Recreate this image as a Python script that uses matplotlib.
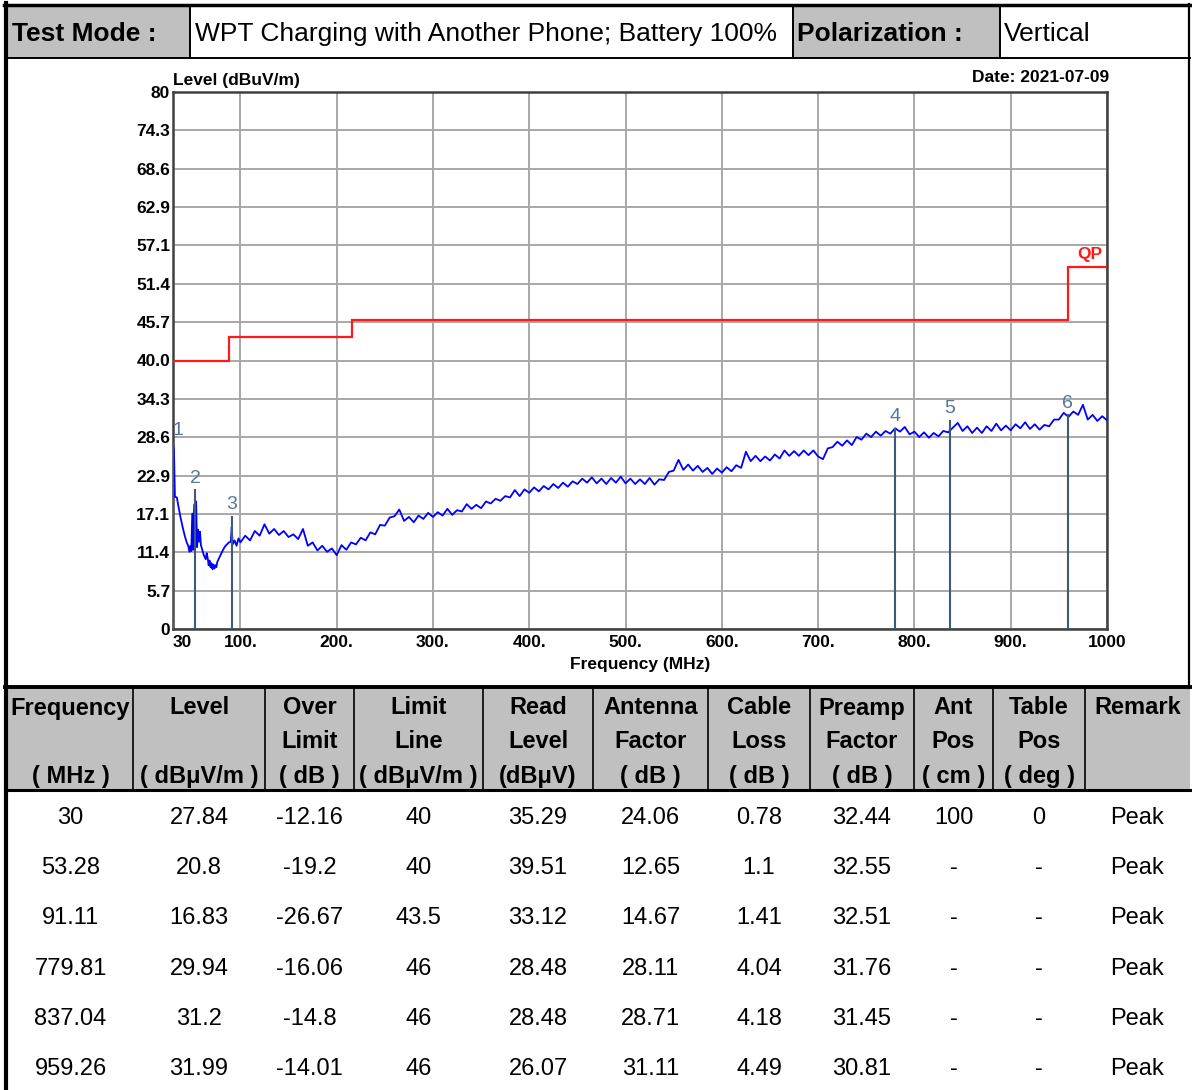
import numpy as np
import matplotlib
matplotlib.use("Agg")
import matplotlib.pyplot as plt
from matplotlib.patches import Rectangle

plt.rcParams['font.family'] = ['Liberation Sans', 'DejaVu Sans']

W, H = 1192, 1090

# header texts
test_mode = "WPT Charging with Another Phone; Battery 100%"
polarization = "Vertical"
date_text = "Date: 2021-07-09"

# y axis (dBuV/m) and x axis (MHz) labels
y_tick_labels = ["0", "5.7", "11.4", "17.1", "22.9", "28.6", "34.3", "40.0",
                 "45.7", "51.4", "57.1", "62.9", "68.6", "74.3", "80"]
x_ticks = [30, 100, 200, 300, 400, 500, 600, 700, 800, 900, 1000]
x_tick_labels = ["30", "100.", "200.", "300.", "400.", "500.", "600.",
                 "700.", "800.", "900.", "1000"]

# QP limit line
limit_edges = [30, 88, 216, 960, 1000]
limit_vals = [40, 43.5, 46, 54]

low_freq = [30, 31, 32, 34, 36, 38, 40, 42, 44, 46,
            47, 48, 49, 50, 51, 52, 53, 54, 55, 56,
            57, 58, 59, 60, 62, 64, 65, 66, 67, 68,
            69, 70, 71, 72, 73, 74, 75, 76, 78, 80,
            82, 84, 86, 88, 90, 91, 92, 94, 96, 98]
low_level = [27.8, 26.5, 19.7, 19.6, 18.0, 16.5, 15.2, 14.0, 13.0, 12.3,
             11.5, 12.4, 11.6, 17.2, 11.8, 18.5, 12.0, 19.0, 12.2, 14.8,
             13.0, 14.5, 12.5, 12.0, 11.0, 10.4, 11.3, 10.6, 9.5, 10.2,
             9.2, 9.8, 8.9, 9.6, 9.0, 9.5, 9.2, 10.0, 10.6, 11.2,
             11.8, 12.3, 12.6, 12.9, 13.0, 15.2, 12.6, 13.2, 12.4, 13.5]

# measured trace, 100..1000 MHz every 5 MHz
sweep_start, sweep_stop, sweep_step = 100, 1000, 5
sweep_level = [
    12.9, 13.9, 13.2, 14.6, 13.9, 15.6, 14.2, 14.9, 14.0, 14.6,
    13.7, 14.1, 13.4, 14.9, 12.4, 12.9, 11.7, 12.4, 11.5, 12.0,
    11.0, 12.5, 11.8, 12.9, 12.6, 13.6, 13.2, 14.4, 14.1, 15.5,
    15.4, 16.6, 16.8, 17.8, 16.1, 16.7, 15.9, 16.9, 16.4, 17.3,
    16.7, 17.4, 16.9, 17.9, 17.0, 17.7, 17.5, 18.6, 17.9, 18.5,
    18.0, 19.0, 18.7, 19.4, 19.1, 19.8, 19.6, 20.7, 19.8, 20.8,
    20.3, 21.1, 20.5, 21.3, 20.8, 21.6, 21.0, 21.8, 21.2, 22.0,
    21.6, 22.4, 21.8, 22.6, 21.7, 22.4, 21.6, 22.5, 21.8, 22.7,
    21.7, 22.4, 21.6, 22.3, 21.6, 22.5, 21.5, 22.3, 22.2, 23.4,
    23.6, 25.2, 23.7, 24.5, 23.6, 24.3, 23.4, 24.0, 23.1, 23.9,
    23.3, 24.1, 23.5, 24.4, 24.0, 26.4, 25.0, 25.8, 25.0, 25.7,
    25.1, 26.0, 25.4, 26.6, 25.8, 26.5, 25.8, 26.6, 25.9, 26.6,
    25.7, 25.3, 26.9, 27.1, 27.9, 27.3, 28.1, 27.4, 28.6, 28.2,
    29.1, 28.6, 29.4, 28.8, 29.5, 29.1, 29.9, 29.4, 30.1, 29.0,
    29.4, 28.6, 29.3, 28.5, 29.2, 28.7, 29.5, 29.3, 30.0, 30.7,
    29.5, 30.2, 29.2, 30.0, 29.2, 30.2, 29.5, 30.6, 29.6, 30.3,
    29.6, 30.5, 29.9, 30.8, 29.8, 30.5, 29.7, 30.4, 30.2, 31.2,
    31.2, 32.2, 31.6, 32.4, 31.9, 33.4, 31.2, 31.9, 31.0, 31.7,
    31.1]

# result table
col_heads = [("Frequency", "", "( MHz )"), ("Level", "", "( dBμV/m )"),
             ("Over", "Limit", "( dB )"), ("Limit", "Line", "( dBμV/m )"),
             ("Read", "Level", "(dBμV)"), ("Antenna", "Factor", "( dB )"),
             ("Cable", "Loss", "( dB )"), ("Preamp", "Factor", "( dB )"),
             ("Ant", "Pos", "( cm )"), ("Table", "Pos", "( deg )"),
             ("Remark", "", "")]
freq = ["30", "53.28", "91.11", "779.81", "837.04", "959.26"]
level = ["27.84", "20.8", "16.83", "29.94", "31.2", "31.99"]
over_limit = ["-12.16", "-19.2", "-26.67", "-16.06", "-14.8", "-14.01"]
limit_line = ["40", "40", "43.5", "46", "46", "46"]
read_level = ["35.29", "39.51", "33.12", "28.48", "28.48", "26.07"]
antenna_factor = ["24.06", "12.65", "14.67", "28.11", "28.71", "31.11"]
cable_loss = ["0.78", "1.1", "1.41", "4.04", "4.18", "4.49"]
preamp_factor = ["32.44", "32.55", "32.51", "31.76", "31.45", "30.81"]
ant_pos = ["100", "-", "-", "-", "-", "-"]
table_pos = ["0", "-", "-", "-", "-", "-"]
remark = ["Peak"] * 6

columns = [freq, level, over_limit, limit_line, read_level, antenna_factor,
           cable_loss, preamp_factor, ant_pos, table_pos, remark]
col_edges = [8, 133, 265, 354, 483, 593, 708, 810, 914, 993, 1085, 1190]

GREY = '#c0c0c0'

fig = plt.figure(figsize=(W / 100, H / 100), dpi=100)

# page overlay in pixel coordinates
pg = fig.add_axes([0, 0, 1, 1])
pg.set_xlim(0, W)
pg.set_ylim(H, 0)
pg.axis('off')

pg.add_patch(Rectangle((8, 6), 182, 52, color=GREY, lw=0))
pg.add_patch(Rectangle((793, 6), 207, 52, color=GREY, lw=0))
pg.add_patch(Rectangle((8, 688), 1182, 102, color=GREY, lw=0))

pg.plot([6, 6], [3, H], color='black', lw=3)
pg.plot([4, 1191], [5, 5], color='black', lw=2.5)
pg.plot([1189, 1189], [4, 688], color='black', lw=1.6)
pg.plot([6, 1190], [58, 58], color='black', lw=1.4)
for x in [190, 793, 1000]:
    pg.plot([x, x], [5, 58], color='black', lw=1.4)
pg.plot([5, 1192], [687, 687], color='black', lw=2.8)
pg.plot([5, 1192], [790, 790], color='black', lw=2.2)
for x in col_edges[1:-1]:
    pg.plot([x, x], [688, 790], color='black', lw=1.2)

pg.text(12, 34, "Test Mode :", fontsize=19, fontweight='bold', va='center')
pg.text(195, 34, test_mode, fontsize=19, va='center')
pg.text(797, 34, "Polarization :", fontsize=19, fontweight='bold', va='center')
pg.text(1004, 34, polarization, fontsize=19, va='center')

head_y = [708, 742, 776]
row_y = [818, 868, 918, 969, 1019, 1069]
for i, heads in enumerate(col_heads):
    cx = (col_edges[i] + col_edges[i + 1]) / 2
    for hy, t in zip(head_y, heads):
        pg.text(cx, hy, t, fontsize=17, fontweight='bold', ha='center', va='center')
    for ry, t in zip(row_y, columns[i]):
        pg.text(cx, ry, t, fontsize=17, ha='center', va='center')

# chart
L, R, T, B = 173, 1107, 92, 629
ax = fig.add_axes([L / W, 1 - B / H, (R - L) / W, (B - T) / H])
ax.set_xlim(30, 1000)
ax.set_ylim(0, 80)

sweep_freq = np.arange(sweep_start, sweep_stop + 1, sweep_step)
trace_f = np.concatenate([low_freq, sweep_freq])
trace_l = np.concatenate([low_level, sweep_level])

ax.stairs(limit_vals, limit_edges, baseline=None, color='#ff1a1a', lw=1.6, zorder=3)
ax.text(982, 54.6, "QP", color='#ff1a1a', fontsize=12.5, fontweight='bold',
        ha='center', va='bottom')

ax.plot(trace_f, trace_l, color='#0000ff', lw=1.3, zorder=4)

mk_freq = [float(v) for v in freq]
mk_level = [float(v) for v in level]
ax.vlines(mk_freq, 0, mk_level, color='#3d5a78', lw=1.5, zorder=5)
for i, (f, lv) in enumerate(zip(mk_freq, mk_level)):
    # first marker sits on the left edge; keep its number inside the plot
    ax.text(f, lv + 0.4, str(i + 1), color='#55769a', fontsize=14,
            ha='left' if i == 0 else 'center', va='bottom', zorder=6)

ax.set_yticks(np.linspace(0, 80, 15))
ax.set_yticklabels(y_tick_labels)
ax.set_xticks(x_ticks)
ax.set_xticklabels(x_tick_labels)
ax.tick_params(length=0, labelsize=12.5, pad=2)
for lab in ax.get_xticklabels() + ax.get_yticklabels():
    lab.set_fontweight('bold')
ax.get_xticklabels()[0].set_ha('left')
ax.tick_params(axis='x', pad=4)
ax.grid(True, color='#a8a8a8', lw=1.4)
ax.set_axisbelow(True)
for sp in ax.spines.values():
    sp.set_color('#404040')
    sp.set_linewidth(1.8)

ax.set_xlabel("Frequency (MHz)", fontsize=12.5, fontweight='bold', labelpad=5)
pg.text(173, 81, "Level (dBuV/m)", fontsize=12.5, fontweight='bold', va='center')
pg.text(1109, 77, date_text, fontsize=12.5, fontweight='bold', va='center', ha='right')

fig.savefig("out.png", dpi=100)
